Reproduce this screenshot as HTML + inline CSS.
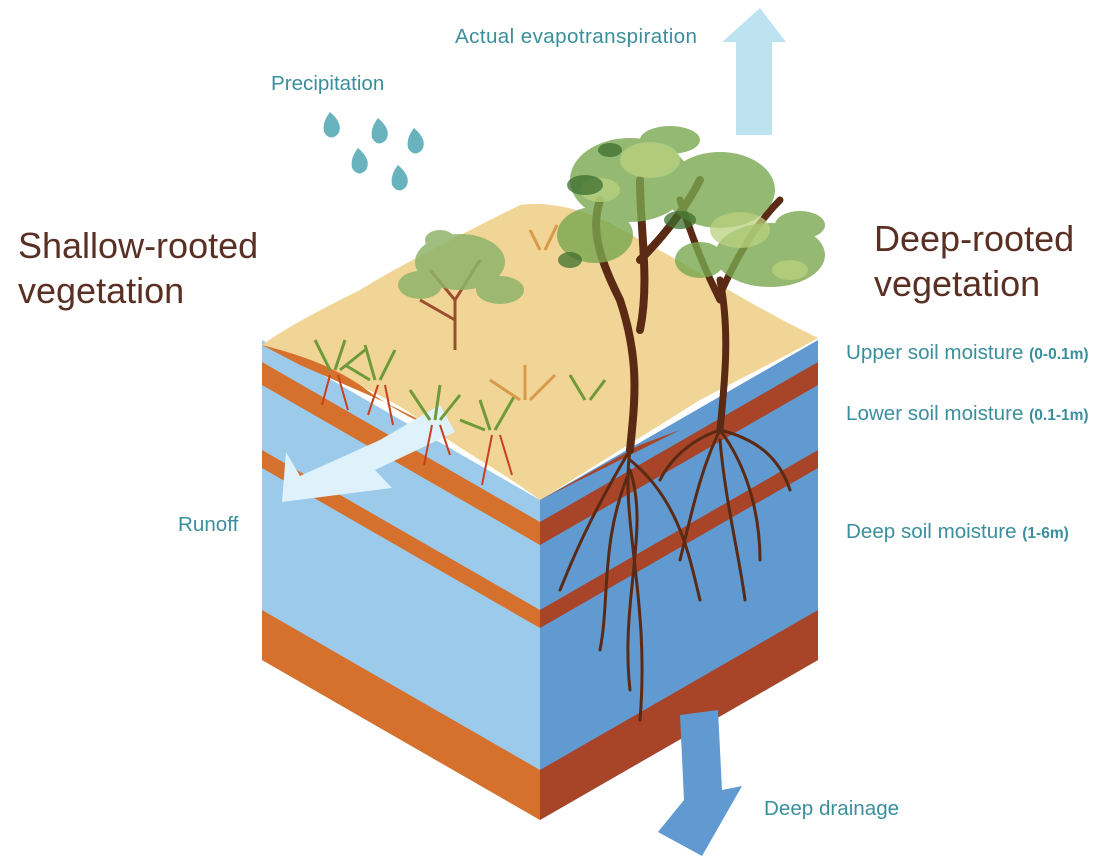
<!DOCTYPE html>
<html><head><meta charset="utf-8"><style>
body{margin:0;background:#fff;width:1114px;height:863px;overflow:hidden}
svg{display:block}
.l{font-family:"Liberation Sans",sans-serif;fill:#3a8f9c;font-size:20.6px}
.b{font-family:"Liberation Sans",sans-serif;fill:#3a8f9c;font-size:15.5px;font-weight:bold}
.h{font-family:"Liberation Sans",sans-serif;fill:#5b3024;font-size:36px}
</style></head><body>
<svg width="1114" height="863" viewBox="0 0 1114 863">
<polygon points="262,340 540,500 540,820 262,660" fill="#9ccaeb"/>
<polygon points="262,362 540,522 540,545 262,385" fill="#d5712c"/>
<polygon points="262,450 540,610 540,628 262,468" fill="#d5712c"/>
<polygon points="262,610 540,770 540,820 262,660" fill="#d5712c"/>
<polygon points="540,500 818,340 818,660 540,820" fill="#6199d1"/>
<polygon points="540,522 818,362 818,385 540,545" fill="#a84427"/>
<polygon points="540,610 818,450 818,468 540,628" fill="#a84427"/>
<polygon points="540,770 818,610 818,660 540,820" fill="#a84427"/>
<path d="M262,345 C290,325 330,305 360,290 C400,265 470,230 520,205 C560,200 600,215 640,240 C690,265 740,300 818,338 L800,348 L700,400 L540,500 C500,470 460,450 420,420 C380,390 320,370 262,345Z" fill="#f0d596"/>
<path d="M262,345 C300,355 330,365 360,385 C380,400 410,420 440,430 L380,400 L300,365Z" fill="#d5712c"/>
<path d="M540,500 C560,490 620,460 680,430 L640,445 Z" fill="#a84427"/>
<g fill="#68b3be">
<path d="M330,112 q14,12 8,22 q-8,8 -14,-2 q-2,-10 6,-20z"/>
<path d="M378,118 q14,12 8,22 q-8,8 -14,-2 q-2,-10 6,-20z"/>
<path d="M414,128 q14,12 8,22 q-8,8 -14,-2 q-2,-10 6,-20z"/>
<path d="M358,148 q14,12 8,22 q-8,8 -14,-2 q-2,-10 6,-20z"/>
<path d="M398,165 q14,12 8,22 q-8,8 -14,-2 q-2,-10 6,-20z"/>
</g>
<polygon points="760,8 786,42 772,42 772,135 736,135 736,42 722,42" fill="#bde3f1"/>
<polygon points="680,715 718,710 722,790 742,786 702,856 658,832 684,800" fill="#6199d1"/>
<polygon points="440,405 455,432 375,470 392,488 282,502 286,452 300,476 380,440" fill="#dff1fa"/>
<g stroke="#9a4e2e" stroke-width="3" fill="none">
<path d="M455,350 L455,300 L430,270 M455,300 L480,260 M455,320 L420,300"/>
</g>
<g fill="#8fb36a" opacity=".85">
<ellipse cx="460" cy="262" rx="45" ry="28"/><ellipse cx="420" cy="285" rx="22" ry="14"/><ellipse cx="500" cy="290" rx="24" ry="14"/><ellipse cx="440" cy="240" rx="15" ry="10"/>
</g>
<g stroke="#6f9a3a" stroke-width="3">
<path d="M330,370 l-15,-30 M335,370 l10,-30 M340,370 l25,-20"/>
<path d="M375,380 l-10,-35 M380,380 l15,-30 M370,380 l-25,-15"/>
<path d="M430,420 l-20,-30 M435,420 l5,-35 M440,420 l20,-25"/>
<path d="M490,430 l-10,-30 M495,430 l20,-35 M485,430 l-25,-10"/>
<path d="M585,400 l-15,-25 M590,400 l15,-20"/>
</g>
<g stroke="#d89a4a" stroke-width="3">
<path d="M520,400 l-30,-20 M525,400 l0,-35 M530,400 l25,-25"/>
<path d="M540,250 l-10,-20 M545,250 l12,-25"/>
</g>
<g stroke="#c8401f" stroke-width="2" fill="none">
<path d="M330,375 l-8,30 M338,375 l10,35 M378,385 l-10,30 M385,385 l8,40 M432,425 l-8,40 M440,425 l10,30 M492,435 l-10,50 M500,435 l12,40"/>
</g>
<g stroke="#5b2a14" fill="none" stroke-linecap="round">
<path d="M630,450 C635,400 640,360 620,300 M640,330 C650,280 640,230 640,180 M620,300 C600,260 590,230 600,200 M640,260 C670,230 690,200 700,180" stroke-width="8"/>
<path d="M720,430 C725,380 730,330 720,280 M720,300 C700,260 690,230 680,200 M722,290 C740,250 760,220 780,200" stroke-width="7"/>
<path d="M630,450 C620,520 650,600 640,720 M630,450 C600,500 580,540 560,590 M630,460 C680,500 690,560 700,600 M630,470 C600,540 610,600 600,650 M630,470 C650,530 620,600 630,690" stroke-width="3"/>
<path d="M720,430 C700,470 690,520 680,560 M720,430 C750,470 760,520 760,560 M720,440 C725,500 740,560 745,600 M720,430 C690,440 670,460 660,480 M720,430 C760,440 780,460 790,490" stroke-width="3"/>
</g>
<g fill="#7aa84f" opacity=".8">
<ellipse cx="630" cy="180" rx="60" ry="42"/>
<ellipse cx="720" cy="190" rx="55" ry="38"/>
<ellipse cx="770" cy="255" rx="55" ry="32"/>
<ellipse cx="595" cy="235" rx="38" ry="28"/>
<ellipse cx="670" cy="140" rx="30" ry="14"/>
<ellipse cx="800" cy="225" rx="25" ry="14"/>
<ellipse cx="700" cy="260" rx="25" ry="18"/>
</g>
<g fill="#b9d27e" opacity=".75">
<ellipse cx="650" cy="160" rx="30" ry="18"/><ellipse cx="740" cy="230" rx="30" ry="18"/><ellipse cx="600" cy="190" rx="20" ry="12"/><ellipse cx="790" cy="270" rx="18" ry="10"/>
</g>
<g fill="#3d6e2e" opacity=".75">
<ellipse cx="585" cy="185" rx="18" ry="10"/><ellipse cx="570" cy="260" rx="12" ry="8"/><ellipse cx="680" cy="220" rx="16" ry="9"/><ellipse cx="610" cy="150" rx="12" ry="7"/>
</g>
<text class="l" x="455" y="43" textLength="242" lengthAdjust="spacing">Actual evapotranspiration</text>
<text class="l" x="271" y="90">Precipitation</text>
<text class="h" x="18" y="258">Shallow-rooted</text>
<text class="h" x="18" y="303">vegetation</text>
<text class="h" x="874" y="251">Deep-rooted</text>
<text class="h" x="874" y="296">vegetation</text>
<text class="l" x="846" y="359">Upper soil moisture <tspan class="b">(0-0.1m)</tspan></text>
<text class="l" x="846" y="420">Lower soil moisture <tspan class="b">(0.1-1m)</tspan></text>
<text class="l" x="846" y="538">Deep soil moisture <tspan class="b">(1-6m)</tspan></text>
<text class="l" x="178" y="531">Runoff</text>
<text class="l" x="764" y="815">Deep drainage</text>
</svg>
</body></html>
